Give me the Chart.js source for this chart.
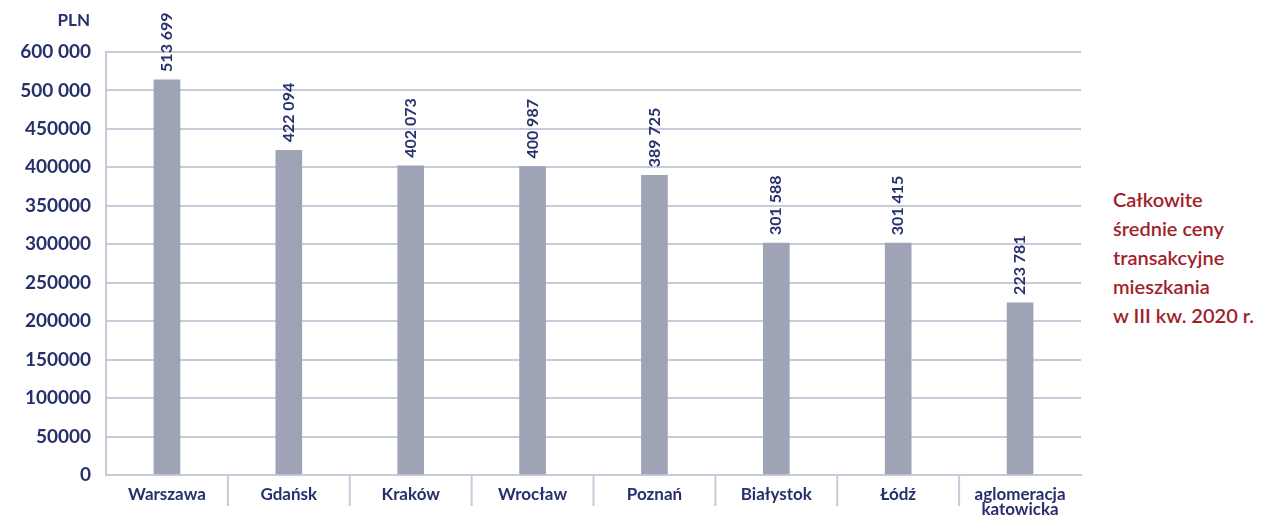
<!DOCTYPE html>
<html>
<head>
<meta charset="utf-8">
<script src="https://cdn.jsdelivr.net/npm/chart.js@4.4.0/dist/chart.umd.min.js"></script>
<style>
  body { margin: 0; background: #fff; width: 1288px; height: 520px; overflow: hidden; position: relative; }
  #wrap { position: absolute; left: 0; top: 0; width: 1095px; height: 520px; }
  #caption {
    position: absolute; left: 1113px; top: 185px;
    font-family: Lato, sans-serif; font-size: 20px; font-weight: 600;
    color: #a11f2b; line-height: 29px;
  }
</style>
</head>
<body>
<div id="wrap"><canvas id="priceChart" width="1095" height="520"></canvas></div>
<div id="caption">Całkowite<br>średnie ceny<br>transakcyjne<br>mieszkania<br>w III kw. 2020 r.</div>
<script>
// dane z wykresu
const cities = ["Warszawa", "Gdańsk", "Kraków", "Wrocław", "Poznań", "Białystok", "Łódź", ["aglomeracja", "katowicka"]];
const prices = [513699, 422094, 402073, 400987, 389725, 301588, 301415, 223781];
const priceLabels = ["513 699", "422 094", "402 073", "400 987", "389 725", "301 588", "301 415", "223 781"];
const yTickLabels = ["0", "50000", "100000", "150000", "200000", "250000", "300000", "350000", "400000", "450000", "500 000", "600 000"];
const yStep = 50000;
const unitLabel = "PLN";

const navy = "#27306a";
const gridColor = "#c6cbda";
const fontFamily = "Lato, sans-serif";

// etykiety nad słupkami, separatory pod osią X, jednostka
const extras = {
  id: "extras",
  afterDraw(chart) {
    const ctx = chart.ctx;
    const x = chart.scales.x;
    const area = chart.chartArea;
    const meta = chart.getDatasetMeta(0);

    // separatory między kategoriami
    ctx.save();
    ctx.strokeStyle = gridColor;
    ctx.lineWidth = 2;
    for (let i = 0; i < cities.length - 1; i++) {
      const sx = (x.getPixelForValue(i) + x.getPixelForValue(i + 1)) / 2;
      ctx.beginPath();
      ctx.moveTo(sx, area.bottom);
      ctx.lineTo(sx, area.bottom + 31);
      ctx.stroke();
    }
    ctx.restore();

    // wartości pionowo
    ctx.save();
    ctx.fillStyle = navy;
    ctx.font = "bold 16px " + fontFamily;
    ctx.textAlign = "left";
    ctx.textBaseline = "middle";
    meta.data.forEach((bar, i) => {
      ctx.save();
      ctx.translate(bar.x, bar.y - 8);
      ctx.rotate(-Math.PI / 2);
      ctx.fillText(priceLabels[i], 0, 0);
      ctx.restore();
    });
    ctx.restore();

    // PLN
    ctx.save();
    ctx.fillStyle = navy;
    ctx.font = "bold 17px " + fontFamily;
    ctx.textAlign = "right";
    ctx.textBaseline = "middle";
    ctx.fillText(unitLabel, 90, 21);
    ctx.restore();
  }
};

new Chart(document.getElementById("priceChart"), {
  type: "bar",
  data: {
    labels: cities,
    datasets: [{
      data: prices,
      backgroundColor: "#9ea3b6",
      barThickness: 26
    }]
  },
  options: {
    responsive: false,
    animation: false,
    layout: { padding: { top: 52, right: 14, left: 0, bottom: 0 } },
    plugins: { legend: { display: false }, tooltip: { enabled: false } },
    scales: {
      y: {
        min: 0,
        max: yStep * (yTickLabels.length - 1),
        ticks: {
          stepSize: yStep,
          color: navy,
          font: { family: fontFamily, size: 19, weight: "bold" },
          padding: 15,
          callback: (v) => yTickLabels[Math.round(v / yStep)]
        },
        grid: { color: gridColor, lineWidth: 2, drawTicks: false },
        border: { color: gridColor, width: 2 },
        afterFit: (s) => { s.width = 106; }
      },
      x: {
        ticks: {
          color: navy,
          font: { family: fontFamily, size: 17, weight: "bold", lineHeight: 0.9 },
          padding: 4,
          maxRotation: 0,
          autoSkip: false
        },
        grid: { display: false },
        border: { color: gridColor, width: 2 },
        afterFit: (s) => { s.height = 45; }
      }
    }
  },
  plugins: [extras]
});
</script>
</body>
</html>
